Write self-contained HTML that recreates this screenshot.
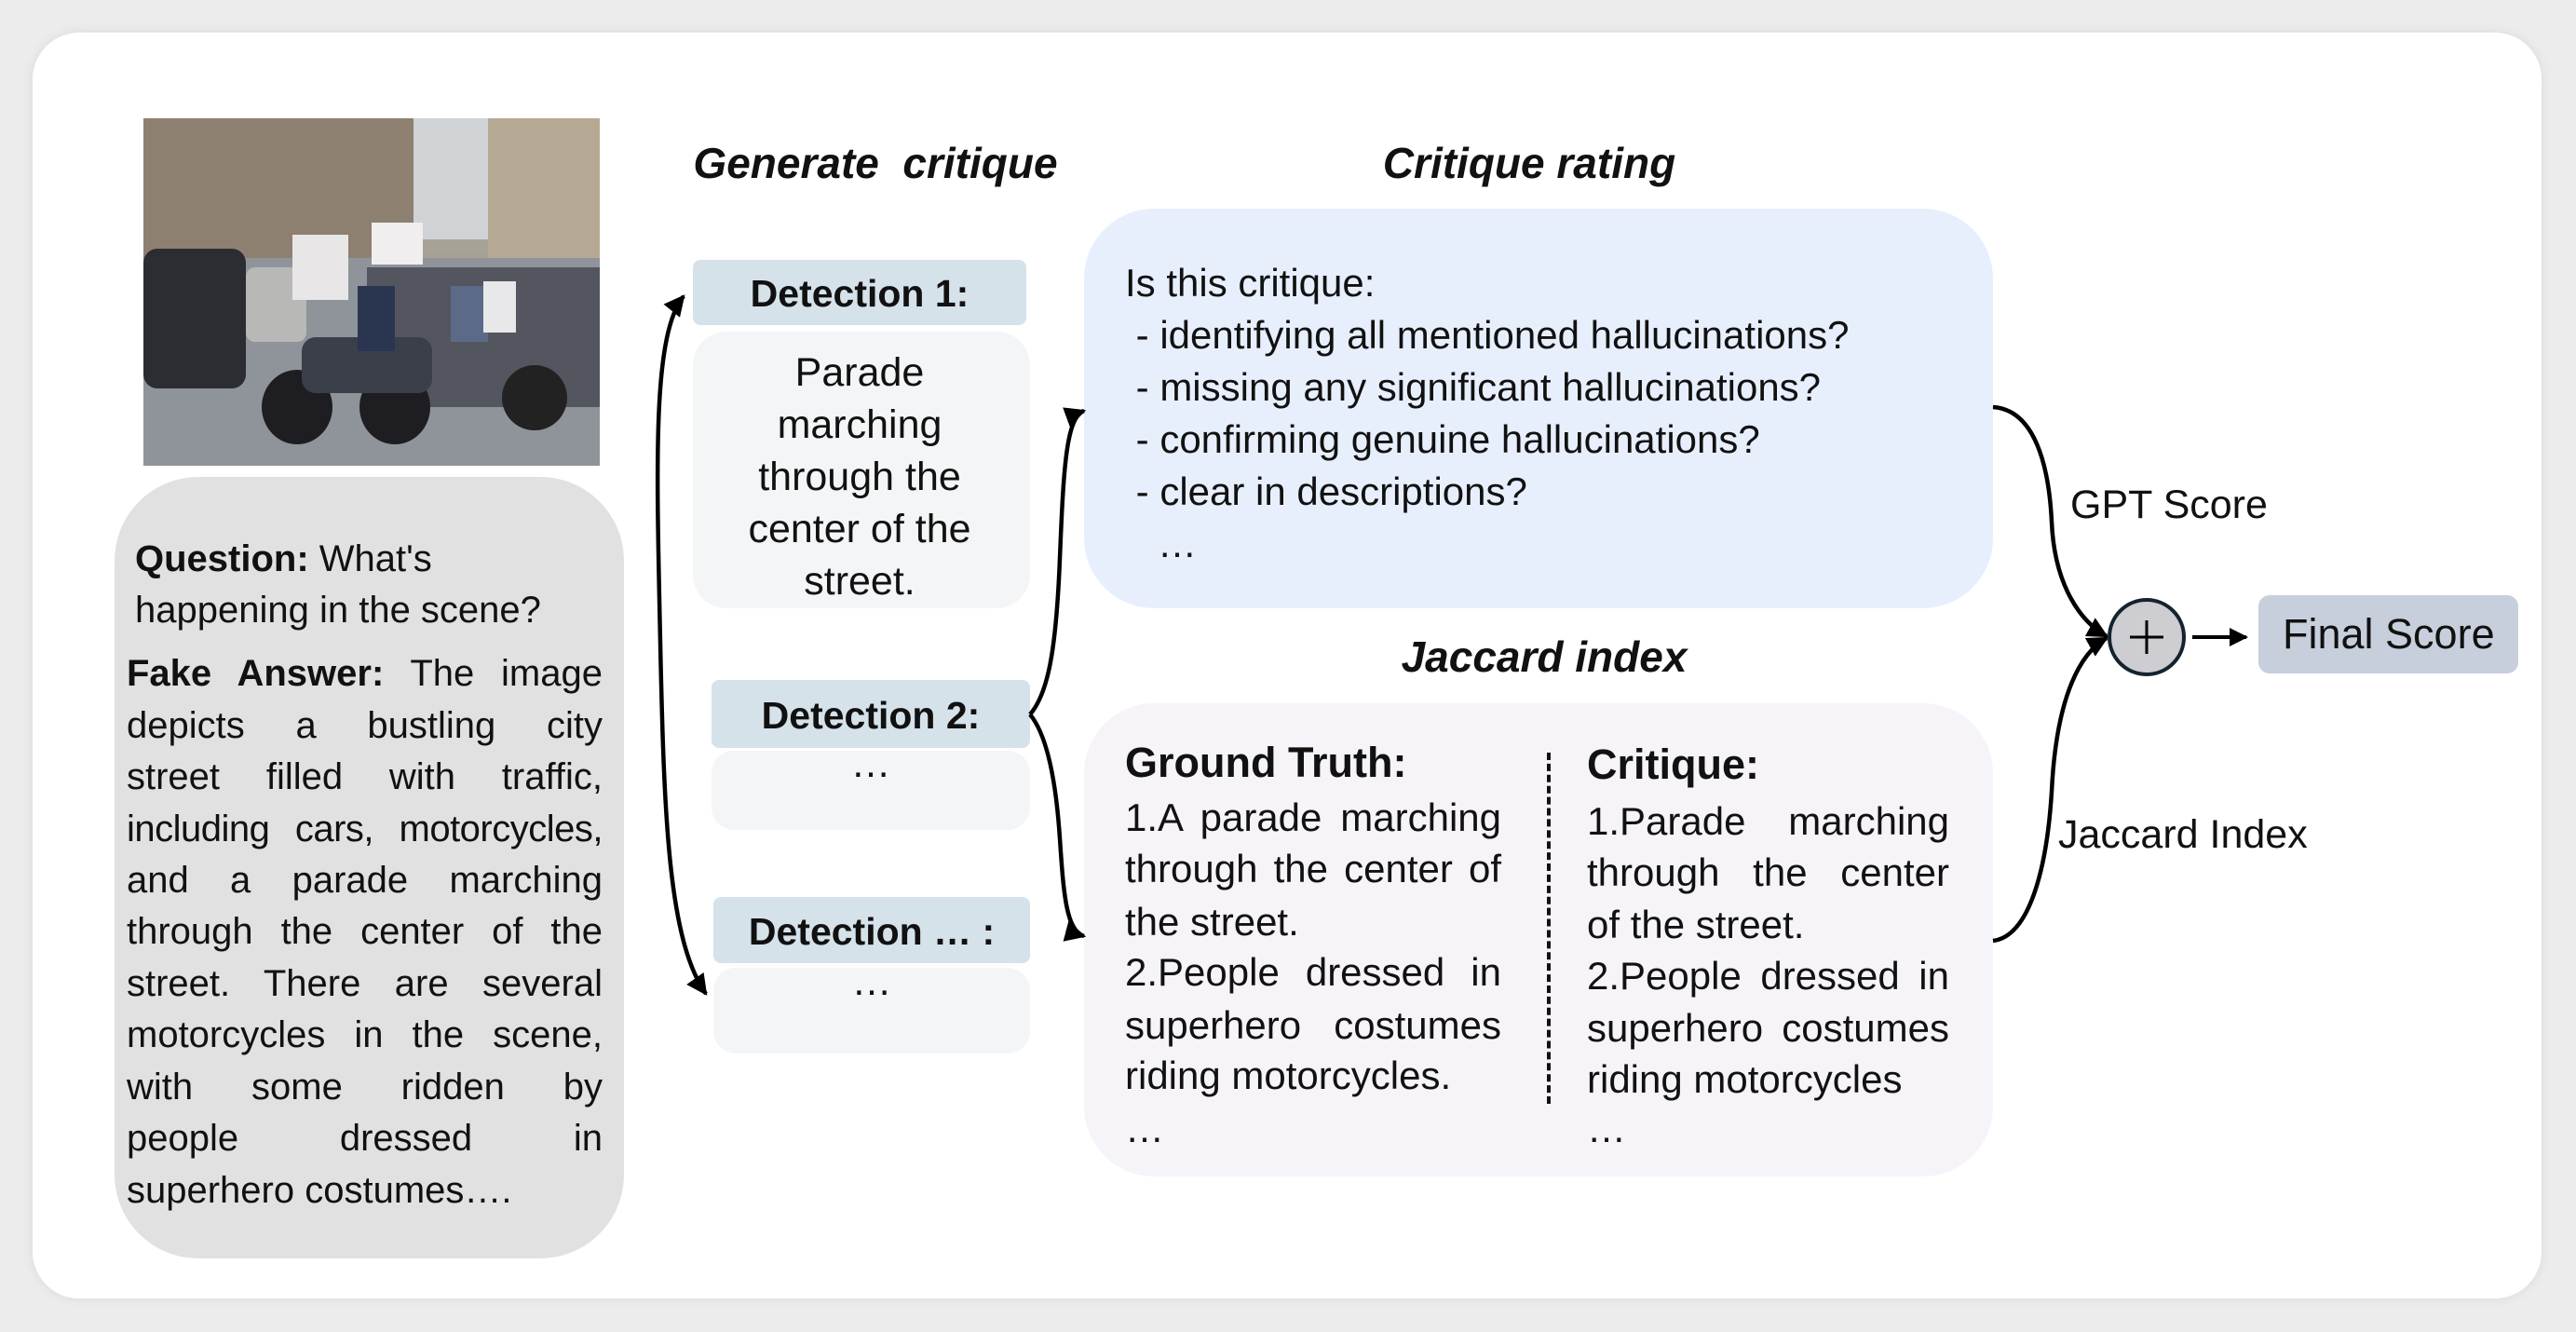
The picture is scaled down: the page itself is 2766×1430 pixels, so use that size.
<!DOCTYPE html>
<html><head><meta charset="utf-8"><style>
*{margin:0;padding:0;box-sizing:border-box}
body{width:2766px;height:1430px;background:#ececec;position:relative;overflow:hidden;font-family:"Liberation Sans",sans-serif;color:#111}
.a{position:absolute}
.panel{left:35px;top:35px;width:2694px;height:1359px;background:#fff;border-radius:50px;box-shadow:0 0 12px rgba(0,0,0,.08)}
.t{position:absolute;white-space:nowrap;font-size:42px;line-height:40px}
.title{position:absolute;font-weight:bold;font-style:italic;font-size:46px;white-space:nowrap;transform:translateX(-50%)}
.j{position:absolute;font-size:42px;line-height:40px;text-align:justify;text-align-last:justify;white-space:nowrap}
.q{font-size:40px}
.c{position:absolute;font-size:43px;line-height:40px;text-align:center;transform:translateX(-50%);white-space:nowrap}
</style></head><body>
<div class="a panel"></div>

<!-- photo -->
<svg class="a" style="left:154px;top:127px" width="490" height="373" viewBox="0 0 490 373">
<defs><linearGradient id="sky" x1="0" y1="0" x2="0" y2="1"><stop offset="0" stop-color="#b9b4a8"/><stop offset="1" stop-color="#8a8478"/></linearGradient></defs>
<rect width="490" height="373" fill="url(#sky)"/>
<rect x="0" y="0" width="290" height="150" fill="#8d8070"/>
<rect x="290" y="0" width="80" height="130" fill="#cfd3d6"/>
<rect x="370" y="0" width="120" height="150" fill="#b5a994"/>
<rect x="0" y="150" width="490" height="223" fill="#8f949a"/>
<rect x="0" y="140" width="110" height="150" rx="15" fill="#2b2d33"/>
<rect x="110" y="160" width="65" height="80" rx="10" fill="#b8b8b6"/>
<rect x="160" y="125" width="60" height="70" fill="#e8e6e6"/>
<rect x="245" y="112" width="55" height="45" fill="#f0eeee"/>
<rect x="240" y="160" width="250" height="150" fill="#44464f" opacity=".8"/>
<ellipse cx="165" cy="310" rx="38" ry="40" fill="#1e1e22"/>
<ellipse cx="270" cy="310" rx="38" ry="40" fill="#1e1e22"/>
<rect x="170" y="235" width="140" height="60" rx="15" fill="#3a3f4a"/>
<rect x="230" y="180" width="40" height="70" fill="#2a3550"/>
<rect x="330" y="180" width="40" height="60" fill="#5a6a88"/>
<rect x="365" y="175" width="35" height="55" fill="#e8e8ea"/>
<ellipse cx="420" cy="300" rx="35" ry="35" fill="#222"/>
</svg>

<!-- Q box -->
<div class="a" style="left:123px;top:512px;width:547px;height:839px;background:#e1e1e1;border-radius:90px"></div>
<div class="t q" style="left:145px;top:580px"><b>Question:</b> What's</div>
<div class="t q" style="left:145px;top:635px">happening in the scene?</div>
<div class="j q" style="left:136px;top:703px;width:511px"><b>Fake Answer:</b> The image</div>
<div class="j q" style="left:136px;top:759px;width:511px">depicts a bustling city</div>
<div class="j q" style="left:136px;top:814px;width:511px">street filled with traffic,</div>
<div class="j q" style="left:136px;top:870px;width:511px;letter-spacing:-0.5px">including cars, motorcycles,</div>
<div class="j q" style="left:136px;top:925px;width:511px">and a parade marching</div>
<div class="j q" style="left:136px;top:980px;width:511px">through the center of the</div>
<div class="j q" style="left:136px;top:1036px;width:511px">street. There are several</div>
<div class="j q" style="left:136px;top:1091px;width:511px">motorcycles in the scene,</div>
<div class="j q" style="left:136px;top:1147px;width:511px">with some ridden by</div>
<div class="j q" style="left:136px;top:1202px;width:511px">people dressed in</div>
<div class="t q" style="left:136px;top:1258px">superhero costumes….</div>

<!-- titles -->
<div class="title" style="left:940px;top:148px">Generate&nbsp; critique</div>
<div class="title" style="left:1642px;top:148px">Critique rating</div>
<div class="title" style="left:1658px;top:678px">Jaccard index</div>

<!-- detections -->
<div class="a" style="left:744px;top:279px;width:358px;height:70px;background:#d6e2e9;border-radius:8px"></div>
<div class="c" style="left:923px;top:295px;font-weight:bold;font-size:41px">Detection 1:</div>
<div class="a" style="left:744px;top:356px;width:362px;height:297px;background:#f3f5f7;border-radius:36px"></div>
<div class="c" style="left:923px;top:372px;line-height:56px">Parade<br>marching<br>through the<br>center of the<br>street.</div>

<div class="a" style="left:764px;top:730px;width:342px;height:73px;background:#d6e2e9;border-radius:8px"></div>
<div class="c" style="left:935px;top:748px;font-weight:bold;font-size:41px">Detection 2:</div>
<div class="a" style="left:764px;top:806px;width:342px;height:85px;background:#f3f5f7;border-radius:24px"></div>
<div class="c" style="left:935px;top:800px">…</div>

<div class="a" style="left:766px;top:963px;width:340px;height:71px;background:#d6e2e9;border-radius:8px"></div>
<div class="c" style="left:936px;top:980px;font-weight:bold;font-size:41px">Detection … :</div>
<div class="a" style="left:766px;top:1039px;width:340px;height:92px;background:#f3f5f7;border-radius:24px"></div>
<div class="c" style="left:936px;top:1034px">…</div>

<!-- blue box -->
<div class="a" style="left:1164px;top:224px;width:976px;height:429px;background:#e8effc;border-radius:75px"></div>
<div class="t" style="left:1208px;top:276px;line-height:56px;font-size:42px">Is this critique:<br>&nbsp;- identifying all mentioned hallucinations?<br>&nbsp;- missing any significant hallucinations?<br>&nbsp;- confirming genuine hallucinations?<br>&nbsp;- clear in descriptions?<br>&nbsp;&nbsp;&nbsp;…</div>

<!-- pink box -->
<div class="a" style="left:1164px;top:755px;width:976px;height:508px;background:#f6f3f9;border-radius:75px"></div>
<div class="t" style="left:1208px;top:799px;font-weight:bold;font-size:45px">Ground Truth:</div>
<div class="j" style="left:1208px;top:858px;width:404px">1.A parade marching</div>
<div class="j" style="left:1208px;top:913px;width:404px">through the center of</div>
<div class="t" style="left:1208px;top:970px">the street.</div>
<div class="j" style="left:1208px;top:1024px;width:404px">2.People dressed in</div>
<div class="j" style="left:1208px;top:1081px;width:404px">superhero costumes</div>
<div class="t" style="left:1208px;top:1135px">riding motorcycles.</div>
<div class="t" style="left:1208px;top:1192px">…</div>

<div class="a" style="left:1661px;top:808px;height:377px;border-left:4px dashed #111"></div>

<div class="t" style="left:1704px;top:801px;font-weight:bold;font-size:45px">Critique:</div>
<div class="j" style="left:1704px;top:862px;width:389px">1.Parade marching</div>
<div class="j" style="left:1704px;top:917px;width:389px">through the center</div>
<div class="t" style="left:1704px;top:973px">of the street.</div>
<div class="j" style="left:1704px;top:1028px;width:389px">2.People dressed in</div>
<div class="j" style="left:1704px;top:1084px;width:389px">superhero costumes</div>
<div class="t" style="left:1704px;top:1139px">riding motorcycles</div>
<div class="t" style="left:1704px;top:1192px">…</div>

<!-- scores -->
<div class="t" style="left:2223px;top:519px;font-size:43px;line-height:46px">GPT Score</div>
<div class="t" style="left:2210px;top:873px;font-size:43px;line-height:46px">Jaccard Index</div>
<div class="a" style="left:2425px;top:639px;width:279px;height:84px;background:#c7cfdc;border-radius:12px"></div>
<div class="t" style="left:2451px;top:658px;font-size:45px;line-height:46px">Final Score</div>

<svg class="a" style="left:0;top:0" width="2766" height="1430">
<defs>
<marker id="ah" viewBox="0 0 10 10" refX="9" refY="5" markerWidth="5" markerHeight="5" orient="auto-start-reverse" markerUnits="strokeWidth"><path d="M0,0 L10,5 L0,10 z" fill="#000"/></marker>
</defs>
<g fill="none" stroke="#000" stroke-width="4.5">
<path d="M 734 318 C 700 360, 705 500, 709 690 S 718 1010, 758 1067" marker-start="url(#ah)" marker-end="url(#ah)"/>
<path d="M 1106 767 C 1125 745, 1134 700, 1138 600 S 1145 448, 1164 441" marker-end="url(#ah)"/>
<path d="M 1106 767 C 1125 790, 1134 840, 1138 900 S 1145 1000, 1164 1005" marker-end="url(#ah)"/>
<path d="M 2140 437 C 2185 440, 2200 500, 2203 560 C 2206 630, 2235 668, 2262 683" marker-end="url(#ah)"/>
<path d="M 2140 1010 C 2180 1005, 2198 930, 2203 850 C 2208 745, 2235 700, 2262 685" marker-end="url(#ah)"/>
<path d="M 2354 684 L 2412 684" stroke-width="4" marker-end="url(#ah)"/>
</g>
<circle cx="2305" cy="684" r="40" fill="#cdcdd2" stroke="#14232e" stroke-width="4"/>
<path d="M 2287 684 H 2323 M 2305 666 V 702" stroke="#000" stroke-width="3"/>
</svg>
</body></html>
